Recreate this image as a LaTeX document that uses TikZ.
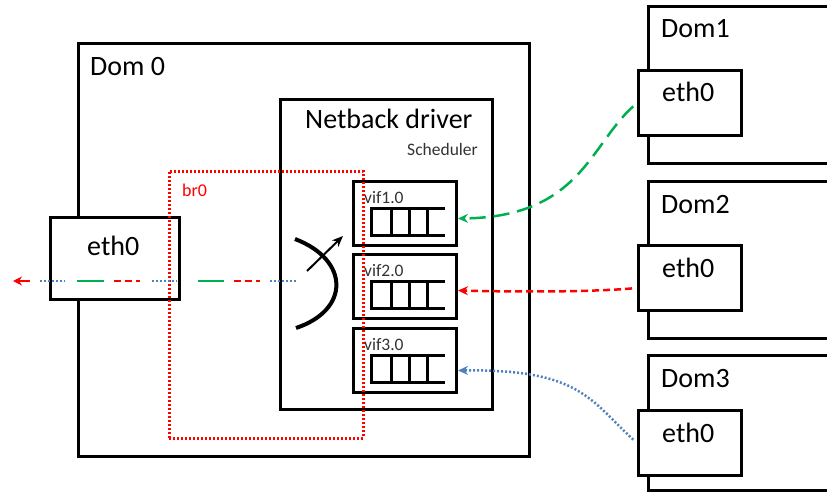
\documentclass[tikz,border=0pt]{standalone}
\usepackage{fontspec}
\setmainfont{Carlito}
\usetikzlibrary{arrows.meta}
\definecolor{offgreen}{RGB}{0,176,80}
\definecolor{offblue}{RGB}{79,129,189}
\definecolor{offred}{RGB}{255,0,0}
\begin{document}
\begin{tikzpicture}[x=1pt,y=-1pt,
  box/.style={draw=black, line width=3pt, fill=white, anchor=north west, inner sep=0pt},
  lbl/.style={anchor=base west, inner sep=0pt, font=\fontsize{28}{30}\selectfont},
  small/.style={anchor=base west, inner sep=0pt, text=black!80, font=\fontsize{17.5}{19}\selectfont},
  queue/.style={draw=black, line width=3pt},
  greenflow/.style={draw=offgreen, line width=2.5pt, dash pattern=on 16pt off 8pt},
  redflow/.style={draw=offred, line width=2.5pt, dash pattern=on 7pt off 4pt},
  blueflow/.style={draw=offblue, line width=2.5pt, dash pattern=on 2pt off 2pt},
  tip/.style={-{Stealth[length=10pt,width=9pt]}}]
\useasboundingbox (0,0) rectangle (827,492);

% Dom 0
\node[box, minimum width=451pt, minimum height=413pt] (dom0) at (77,42) {};
\node[lbl] (dom0t) at (90,76) {Dom 0};
\node[box, minimum width=129pt, minimum height=82pt] (eth0L) at (49,216) {};
\node[lbl] (eth0Lt) at (87,255) {eth0};

% Netback driver
\node[box, minimum width=212pt, minimum height=310pt] (netback) at (279,98) {};
\node[lbl] (netbackt) at (305,129) {Netback driver};
\node[small, anchor=base east] (sched) at (478,155) {Scheduler};

% vif boxes with queues
\foreach \i/\t in {1/180,2/253,3/327}{
  \node[box, minimum width=103pt, minimum height=64pt] (vif\i) at (352,\t) {};
  \node[small] (vif\i t) at (364,\t+23) {vif\i.0};
  \draw[queue] (445,\t+28) -- (371,\t+28) -- (371,\t+55) -- (445,\t+55);
  \draw[queue] (391,\t+28) -- (391,\t+55) (409,\t+28) -- (409,\t+55) (427,\t+28) -- (427,\t+55);
}

% scheduler arc and arrow
\draw[line width=4pt] (295,239) .. controls (350,260) and (350,310) .. (296,328);
\coordinate (arrA) at (307,271);
\coordinate (arrB) at (343,236);
\draw[line width=2pt, -{Stealth[length=11pt,width=9pt]}] (arrA) -- (arrB);

% br0
\node[draw=offred, line width=2.5pt, dash pattern=on 2pt off 2pt, anchor=north west, inner sep=0pt,
      minimum width=194pt, minimum height=267pt] (br0) at (168,170) {};
\node[small, text=offred, font=\fontsize{18}{20}\selectfont] (br0t) at (182,196) {br0};

% Guest domains
\foreach \i/\t/\e in {1/5/69,2/180/244,3/354/409}{
  \node[box, minimum width=200pt, minimum height=157pt] (dom\i) at (647,\t) {};
  \node[lbl] (dom\i t) at (661,\t+33) {Dom\i};
  \node[box, minimum width=103pt, minimum height=65pt] (e\i) at (637,\e) {};
  \node[lbl] (e\i t) at (662,\e+33) {eth0};
}
% Dom3 bottom edge within page
\draw[line width=3pt] (647,490.5) -- (840,490.5);

% connectors from guest eth0 to vifs
\draw[greenflow, tip, shorten <=5pt] (e1.west) .. controls (590,145) and (580,217) .. ([yshift=-5pt]vif1.east);
\draw[redflow, tip, shorten <=5pt] ([yshift=-10pt]e2.west) .. controls (590,292) and (520,292) .. ([yshift=-4pt]vif2.east);
\draw[blueflow, tip, shorten <=5pt] (e3.west) .. controls (590,400) and (580,369) .. ([yshift=-10pt]vif3.east);

% outgoing mixed flow
\draw[blueflow] (270,281) -- (296,281);
\draw[redflow] (234,281) -- (260,281);
\draw[offgreen, line width=2.5pt] (198,281) -- (224,281);
\draw[blueflow] (152,281) -- (177,281);
\draw[redflow] (114,281) -- (140,281);
\draw[offgreen, line width=2.5pt] (77,281) -- (104,281);
\draw[blueflow] (40,281) -- (65,281);
\draw[offred, line width=2.5pt, -{Stealth[length=9pt,width=9pt]}] (30,281) -- (13,281);
\end{tikzpicture}
\end{document}
